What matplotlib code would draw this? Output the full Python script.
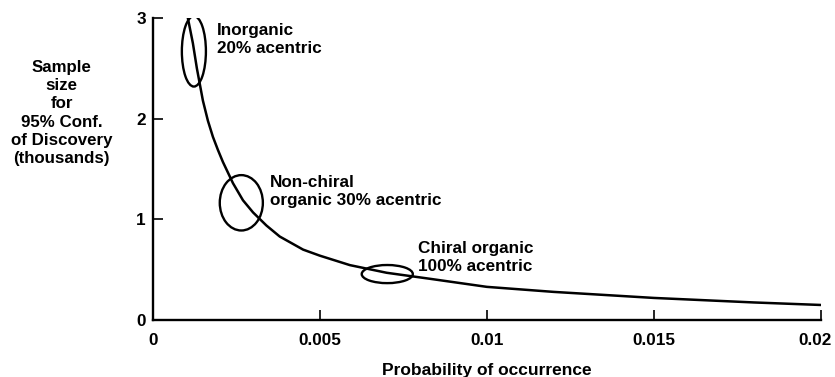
import matplotlib.pyplot as plt
from matplotlib.patches import Ellipse
from matplotlib.transforms import ScaledTranslation

plt.rcParams['font.family'] = ['Liberation Sans', 'DejaVu Sans']
plt.rcParams['font.weight'] = 'bold'

# curve (sample size in thousands)
prob = [0.00105, 0.0012, 0.00132, 0.0015, 0.00165, 0.0018, 0.00195, 0.0021,
        0.0024, 0.0027, 0.003, 0.0034, 0.0038, 0.0045, 0.005, 0.0059,
        0.007, 0.0083, 0.01, 0.012, 0.015, 0.018, 0.02]
sample = [3.0, 2.75, 2.5, 2.18, 1.98, 1.82, 1.69, 1.57,
          1.36, 1.19, 1.07, 0.94, 0.83, 0.70, 0.64, 0.546,
          0.47, 0.41, 0.33, 0.28, 0.22, 0.175, 0.15]

# circled groups: centre x, centre y, width, height, label
group_x = [0.00123, 0.00265, 0.00702]
group_y = [2.67, 1.165, 0.457]
group_w = [0.00072, 0.00129, 0.00153]
group_h = [0.70, 0.55, 0.18]
group_labels = ['Inorganic\n20% acentric',
                'Non-chiral\norganic 30% acentric',
                'Chiral organic\n100% acentric']
label_x = [0.00192, 0.0035, 0.00793]
label_y = [2.95, 1.44, 0.785]

xticks = [0, 0.005, 0.01, 0.015, 0.02]
xticklabels = ['0', '0.005', '0.01', '0.015', '0.02']
yticks = [0, 1, 2, 3]

fig = plt.figure(figsize=(8.35, 3.77), dpi=100)
ax = fig.add_axes([0.183, 0.151, 0.8, 0.801])

ax.plot(prob, sample, color='black', lw=1.8)

for cx, cy, w, h in zip(group_x, group_y, group_w, group_h):
    ax.add_patch(Ellipse((cx, cy), w, h, fill=False, edgecolor='black', lw=1.7))

for tx, ty, t in zip(label_x, label_y, group_labels):
    ax.text(tx, ty, t, ha='left', va='top', fontsize=12.3, fontweight='bold',
            linespacing=1.25)

ax.set_xlim(0, 0.02)
ax.set_ylim(0, 3)
ax.set_xticks(xticks)
ax.set_xticklabels(xticklabels)
ax.set_yticks(yticks)
ax.tick_params(direction='in', length=7, width=1.2, labelsize=12.3)
ax.tick_params(axis='x', pad=9)
ax.tick_params(axis='y', pad=5)
for s in ['top', 'right']:
    ax.spines[s].set_visible(False)
for s in ['left', 'bottom']:
    ax.spines[s].set_linewidth(1.7)

# last x label sits at the figure edge, nudge it left a bit
last = ax.get_xticklabels()[-1]
last.set_transform(last.get_transform() + ScaledTranslation(-4 / 72, 0, fig.dpi_scale_trans))

ax.set_xlabel('Probability of occurrence', fontsize=12.5, fontweight='bold',
              labelpad=11)

fig.text(0.074, 0.70, 'Sample\nsize\nfor\n95% Conf.\nof Discovery\n(thousands)',
         ha='center', va='center', fontsize=12.2, fontweight='bold',
         linespacing=1.27)

fig.savefig('out.png', dpi=100)
